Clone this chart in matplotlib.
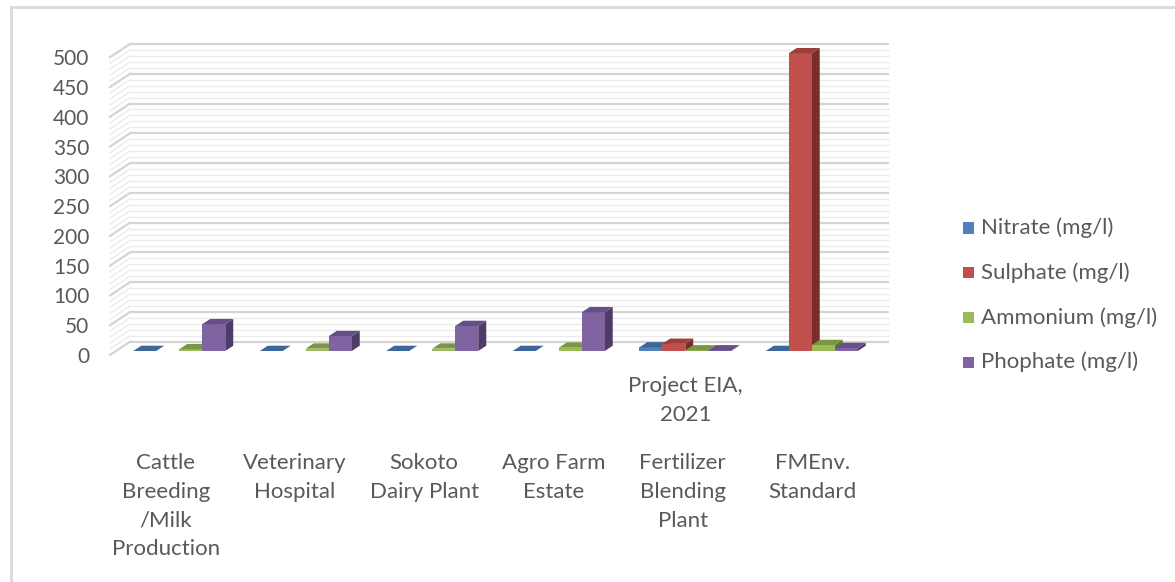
import numpy as np
import matplotlib
matplotlib.use("Agg")
import matplotlib.pyplot as plt
from matplotlib.patches import Polygon, Rectangle
from matplotlib.lines import Line2D

# ---- data ----
categories = ["Cattle\nBreeding\n/Milk\nProduction", "Veterinary\nHospital",
              "Sokoto\nDairy Plant", "Agro Farm\nEstate",
              "Fertilizer\nBlending\nPlant", "FMEnv.\nStandard"]
series_names = ["Nitrate (mg/l)", "Sulphate (mg/l)", "Ammonium (mg/l)", "Phophate (mg/l)"]
nitrate = [0, 0, 0, 0, 6, 0]
sulphate = [np.nan, np.nan, np.nan, np.nan, 12, 500]
ammonium = [3, 4, 4, 5.5, 1, 10]
phosphate = [45, 25, 42, 65, 1, 5]
y_ticks = list(range(0, 501, 50))
group_note = "Project EIA,\n2021"

values = [nitrate, sulphate, ammonium, phosphate]
front = ["#4F81BD", "#C0504D", "#9BBB59", "#8064A2"]
top = ["#3E6799", "#9E3D3A", "#7A9643", "#654F86"]
side = ["#2F5078", "#7A2E2C", "#5E7433", "#4D3C68"]

W, H = 1175, 582
fig = plt.figure(figsize=(W / 100, H / 100), dpi=100)
txt = "#595959"
plt.rcParams["font.family"] = ["Lato", "DejaVu Sans"]
FS = 16
FS_TICK = 15

# axes placed so that the front floor edge spans the category range
ax_l, ax_r, ax_b, ax_t = 110, 889, 355, 44
ax = fig.add_axes([ax_l / W, 1 - ax_b / H, (ax_r - ax_l) / W, (ax_b - ax_t) / H])
ncat = len(categories)
DX = 20 / 126.5          # depth offset in category units
DY = 22.3                # depth offset in value units
ax.set_xlim(0, ncat + DX)
ax.set_ylim(0, 500 + DY)
for s in ax.spines.values():
    s.set_visible(False)
ax.set_xticks([])
ax.set_yticks(y_ticks)
ax.set_yticklabels([str(t) for t in y_ticks], fontsize=FS_TICK, color=txt)
ax.tick_params(axis="y", length=0, pad=15)
ax.patch.set_visible(False)

# back wall and side wall grid
for v in np.arange(0, 501, 10):
    major = v % 50 == 0
    col = "#d4d4d4" if major else "#ebebeb"
    lw = 1.6 if major else 1.0
    ax.plot([DX, ncat + DX], [v + DY, v + DY], color=col, lw=lw, zorder=1,
            solid_capstyle="butt", clip_on=False)
    ax.plot([0, DX], [v, v + DY], color=col, lw=lw, zorder=1, clip_on=False)

# 3-D style clustered columns
nser = len(values)
bw = 1 / (nser + 1.5)
d0, d1 = 0.3, 0.7
z = 2
for c in range(ncat):
    for s in range(nser):
        v = values[s][c]
        if np.isnan(v):
            continue
        x0 = c + 0.5 - nser * bw / 2 + s * bw + d0 * DX
        y0 = d0 * DY
        ddx, ddy = (d1 - d0) * DX, (d1 - d0) * DY
        ax.add_patch(Polygon([(x0 + bw, y0), (x0 + bw, y0 + v),
                              (x0 + bw + ddx, y0 + v + ddy), (x0 + bw + ddx, y0 + ddy)],
                             closed=True, facecolor=side[s], edgecolor="none",
                             zorder=z, clip_on=False))
        ax.bar(x0, v, width=bw, bottom=y0, align="edge", color=front[s],
               edgecolor="none", zorder=z + 1, clip_on=False)
        ax.add_patch(Polygon([(x0, y0 + v), (x0 + bw, y0 + v),
                              (x0 + bw + ddx, y0 + v + ddy), (x0 + ddx, y0 + v + ddy)],
                             closed=True, facecolor=top[s], edgecolor="none",
                             zorder=z + 2, clip_on=False))
        z += 3

# category labels
def ax_frac(ypx):
    return (ax_b - ypx) / (ax_b - ax_t)

LS = 1.55
for c, lab in enumerate(categories):
    ax.text(c * 1.022 + 0.44, ax_frac(453), lab, transform=ax.get_xaxis_transform(),
            ha="center", va="top", fontsize=FS, color=txt, linespacing=LS,
            multialignment="center")
ax.text(4.55, ax_frac(376), group_note, transform=ax.get_xaxis_transform(),
        ha="center", va="top", fontsize=FS, color=txt, linespacing=LS,
        multialignment="center")

# legend
for i, name in enumerate(series_names):
    yc = 228 + i * 44.7
    fig.patches.append(Rectangle((963 / W, 1 - (yc + 5.5) / H), 11 / W, 11 / H,
                                 transform=fig.transFigure, facecolor=front[i],
                                 edgecolor="none"))
    fig.text(981 / W, 1 - yc / H, name, fontsize=FS, color=txt, va="center", ha="left")

# chart frame
fig.add_artist(Line2D([11.5 / W, 11.5 / W], [0, 1 - 7 / H], transform=fig.transFigure,
                      color="#d9d9d9", lw=2))
fig.add_artist(Line2D([11.5 / W, 1], [1 - 7 / H, 1 - 7 / H], transform=fig.transFigure,
                      color="#d9d9d9", lw=2))

fig.savefig("out.png", dpi=100, facecolor="white")
